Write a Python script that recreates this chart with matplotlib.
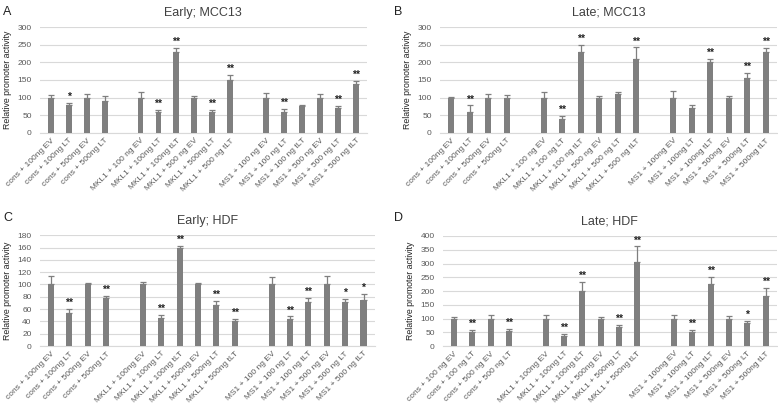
import matplotlib
matplotlib.use('Agg')
import matplotlib.pyplot as plt
import numpy as np

plt.rcParams['font.family'] = ['Liberation Sans', 'DejaVu Sans']

# slot positions: 4 cons bars, gap, 6 MKL1 bars, gap, 6 MS1 bars
positions = [0, 1, 2, 3, 5, 6, 7, 8, 9, 10, 12, 13, 14, 15, 16, 17]

labels_a = ['cons + 100ng EV', 'cons + 100ng LT', 'cons + 500ng EV', 'cons + 500ng LT',
            'MKL1 + 100 ng EV', 'MKL1 + 100ng LT', 'MKL1 + 100ng tLT', 'MKL1 + 500 ng EV',
            'MKL1 + 500ng LT', 'MKL1 + 500 ng tLT',
            'MS1 + 100 ng EV', 'MS1 + 100 ng LT', 'MS1 + 100 ng tLT', 'MS1 + 500 ng EV',
            'MS1 + 500 ng LT', 'MS1 + 500 ng tLT']
values_a = [100, 80, 100, 90, 100, 60, 230, 100, 60, 150, 100, 60, 77, 100, 70, 140]
errors_a = [7, 5, 10, 15, 15, 4, 10, 5, 5, 14, 14, 7, 2, 10, 7, 7]
stars_a = ['', '*', '', '', '', '**', '**', '', '**', '**', '', '**', '', '', '**', '**']

labels_b = ['cons + 100ng EV', 'cons + 100ng LT', 'cons + 500ng EV', 'cons + 500ng LT',
            'MKL1 + 100 ng EV', 'MKL1 + 100 ng LT', 'MKL1 + 100 ng tLT', 'MKL1 + 500 ng EV',
            'MKL1 + 500 ng LT', 'MKL1 + 500 ng tLT',
            'MS1 + 100ng EV', 'MS1 + 100ng LT', 'MS1 + 100ng tLT', 'MS1 + 500ng EV',
            'MS1 + 500ng LT', 'MS1 + 500ng tLT']
values_b = [100, 60, 100, 100, 100, 40, 228, 100, 110, 210, 100, 70, 200, 100, 155, 228]
errors_b = [1, 18, 9, 8, 15, 8, 20, 5, 7, 32, 20, 10, 10, 5, 15, 12]
stars_b = ['', '**', '', '', '', '**', '**', '', '', '**', '', '', '**', '', '**', '**']

labels_c = ['cons + 100ng EV', 'cons + 100ng LT', 'cons + 500ng EV', 'cons + 500ng LT',
            'MKL1 + 100ng EV', 'MKL1 + 100ng LT', 'MKL1 + 100ng tLT', 'MKL1 + 500ng EV',
            'MKL1 + 500ng LT', 'MKL1 + 500ng tLT',
            'MS1 + 100 ng EV', 'MS1 + 100 ng LT', 'MS1 + 100 ng tLT', 'MS1 + 500 ng EV',
            'MS1 + 500 ng LT', 'MS1 + 500 ng tLT']
values_c = [100, 54, 100, 78, 100, 46, 159, 100, 67, 41, 100, 44, 72, 100, 72, 74]
errors_c = [13, 6, 2, 4, 4, 4, 3, 2, 6, 3, 12, 4, 6, 13, 5, 11]
stars_c = ['', '**', '', '**', '', '**', '**', '', '**', '**', '', '**', '**', '', '*', '*']

labels_d = ['cons + 100 ng EV', 'cons + 100 ng LT', 'cons + 500 ng EV', 'cons + 500 ng LT',
            'MKL1 + 100ng EV', 'MKL1 + 100ng LT', 'MKL1 + 100ng tLT', 'MKL1 + 500ng EV',
            'MKL1 + 500ng LT', 'MKL1 + 500ng tLT',
            'MS1 + 100ng EV', 'MS1 + 100ng LT', 'MS1 + 100ng tLT', 'MS1 + 500ng EV',
            'MS1 + 500ng LT', 'MS1 + 500ng tLT']
values_d = [100, 50, 100, 55, 100, 38, 200, 100, 70, 305, 100, 50, 225, 100, 82, 182]
errors_d = [5, 8, 12, 8, 12, 5, 32, 5, 5, 57, 12, 7, 27, 8, 8, 28]
stars_d = ['', '**', '', '**', '', '**', '**', '', '**', '**', '', '**', '**', '', '*', '**']

BAR = '#7f7f7f'
GRID = '#d9d9d9'
TXT = '#595959'

fig = plt.figure(figsize=(7.78, 4.03), dpi=100)


def panel(rect, title, labels, values, errors, stars, ymax, ystep):
    ax = fig.add_axes(rect)
    errs = np.array(errors)
    ax.bar(positions, values, width=0.33, color=BAR, zorder=3)
    ax.errorbar(positions, values, yerr=[np.zeros_like(errs), errs], fmt='none',
                ecolor=BAR, elinewidth=0.9, capsize=2.2, capthick=0.9, zorder=3)
    for x, v, e, s in zip(positions, values, errors, stars):
        if s:
            ax.text(x, v + e + ymax * 0.01, s, ha='center', va='bottom',
                    fontsize=7.5, fontweight='bold', color='#222222')
    ax.set_xlim(-0.6, 17.6)
    ax.set_ylim(0, ymax)
    ax.set_yticks(np.arange(0, ymax + 1, ystep))
    ax.yaxis.grid(True, color=GRID, linewidth=0.8, zorder=0)
    ax.set_xticks(positions)
    ax.set_xticklabels(labels, rotation=45, ha='right', rotation_mode='anchor',
                       fontsize=6, color=TXT)
    ax.tick_params(axis='y', length=0, labelsize=6, labelcolor=TXT, pad=6)
    ax.tick_params(axis='x', length=0, pad=3)
    for sp in ['top', 'right', 'left']:
        ax.spines[sp].set_visible(False)
    ax.spines['bottom'].set_color(GRID)
    ax.set_ylabel('Relative promoter activity', fontsize=6.3, color='#222222', labelpad=4)
    ax.set_title(title, fontsize=9, color='#404040', pad=8)
    return ax


axA = panel([0.0514, 0.670, 0.420, 0.263], 'Early; MCC13', labels_a, values_a, errors_a, stars_a, 300, 50)
axB = panel([0.5656, 0.670, 0.433, 0.263], 'Late; MCC13', labels_b, values_b, errors_b, stars_b, 300, 50)
axC = panel([0.0514, 0.1414, 0.430, 0.275], 'Early; HDF', labels_c, values_c, errors_c, stars_c, 180, 20)
axD = panel([0.5694, 0.1414, 0.429, 0.273], 'Late; HDF', labels_d, values_d, errors_d, stars_d, 400, 50)

fig.text(0.004, 0.985, 'A', fontsize=9, va='top', color='#222222')
fig.text(0.506, 0.985, 'B', fontsize=9, va='top', color='#222222')
fig.text(0.004, 0.475, 'C', fontsize=9, va='top', color='#222222')
fig.text(0.506, 0.475, 'D', fontsize=9, va='top', color='#222222')

fig.savefig('out.png', dpi=100, facecolor='white')
